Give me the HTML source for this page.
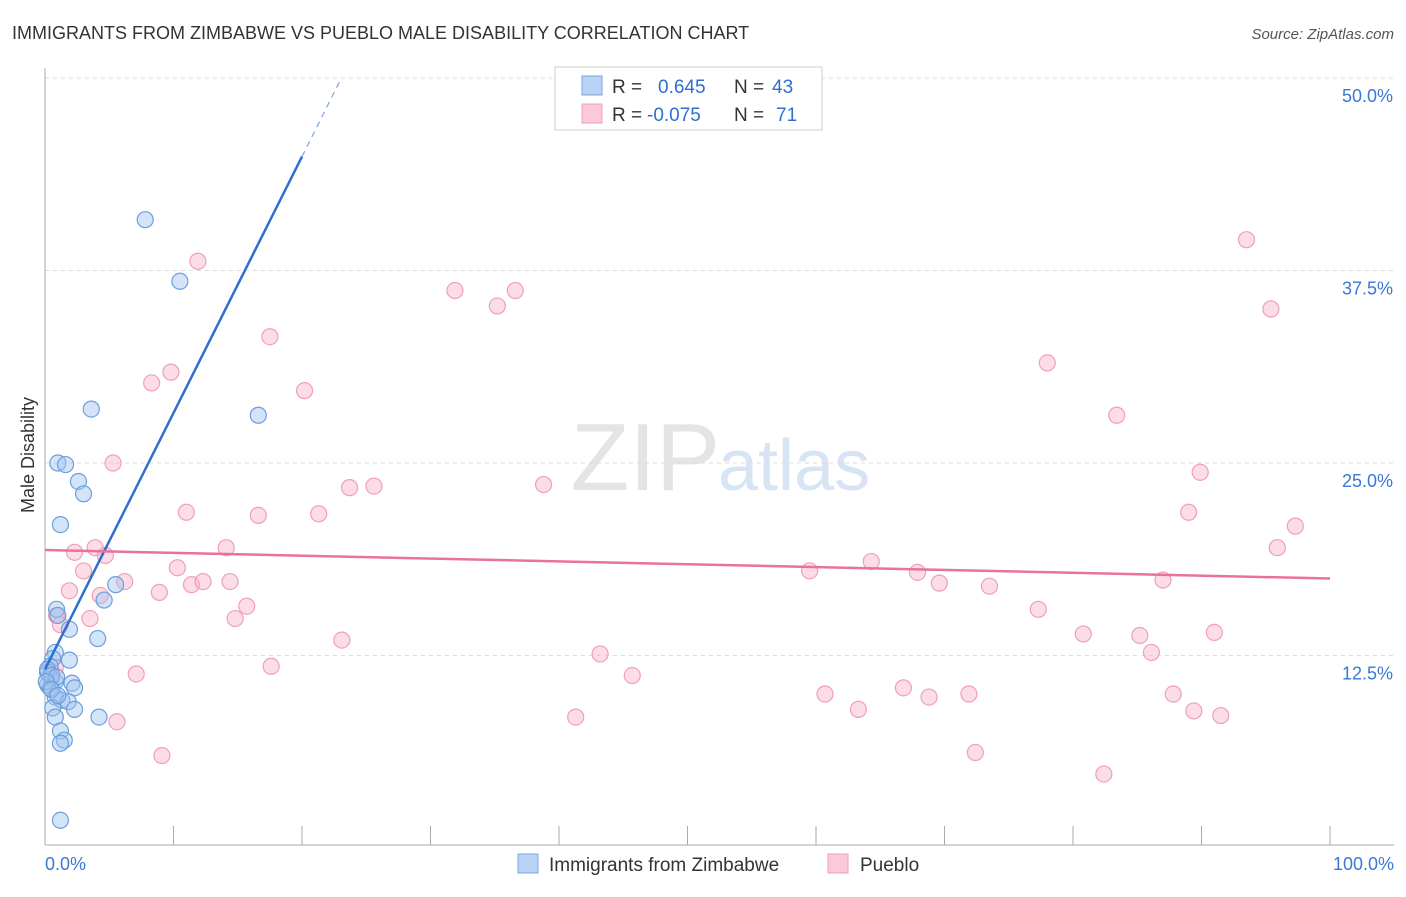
<!DOCTYPE html>
<html><head><meta charset="utf-8"><style>
body{margin:0;background:#fff;font-family:"Liberation Sans",sans-serif;}
svg text{font-family:"Liberation Sans",sans-serif;}
</style></head><body>
<svg id="c" width="1406" height="892">
<text x="12" y="39" font-size="18" fill="#333">IMMIGRANTS FROM ZIMBABWE VS PUEBLO MALE DISABILITY CORRELATION CHART</text>
<text x="1394" y="39" font-size="15" fill="#555" font-style="italic" text-anchor="end">Source: ZipAtlas.com</text>
<text x="720" y="490" font-size="96" fill="#e4e4e4" text-anchor="end" font-family="Liberation Serif">ZIP</text>
<text x="718" y="490" font-size="72" fill="#d6e4f4">atlas</text>
<text transform="translate(34,455) rotate(-90)" font-size="18" fill="#333" text-anchor="middle">Male Disability</text>
<g id="grid"></g><g id="marks"></g>
<g>
<rect x="555" y="67" width="267" height="63" fill="#fff" stroke="#ccc"/>
<rect x="582" y="76" width="20" height="19" fill="#b9d3f5" stroke="#7aa6e0"/>
<rect x="582" y="104" width="20" height="19" fill="#fbc9d8" stroke="#eea0b8"/>
<text x="612" y="93" font-size="19" fill="#333">R = <tspan fill="#2f6fd0" x="658">0.645</tspan><tspan fill="#333" x="734">N =</tspan><tspan fill="#2f6fd0" x="772">43</tspan></text>
<text x="612" y="121" font-size="19" fill="#333">R = <tspan fill="#2f6fd0" x="647">-0.075</tspan><tspan fill="#333" x="734">N =</tspan><tspan fill="#2f6fd0" x="776">71</tspan></text>
</g>
<g>
<rect x="518" y="854" width="20" height="19" fill="#b9d3f5" stroke="#7aa6e0"/>
<text x="549" y="871" font-size="19" fill="#333">Immigrants from Zimbabwe</text>
<rect x="828" y="854" width="20" height="19" fill="#fbc9d8" stroke="#eea0b8"/>
<text x="860" y="871" font-size="19" fill="#333">Pueblo</text>
</g>
</svg>
<script>
const yTicks=[12.5,25,37.5,50];
const yTickLabels=["12.5%","25.0%","37.5%","50.0%"];
const xTickLabels=["0.0%","100.0%"];
const blueX=[7.8,10.5,3.6,16.6,1.0,1.6,2.6,3.0,1.2,5.5,4.6,0.9,1.0,1.9,4.1,0.8,0.6,1.9,0.4,0.2,0.5,0.8,2.1,0.2,0.4,2.3,0.8,1.3,1.8,0.6,2.3,0.8,4.2,1.2,1.5,1.2,1.2,0.2,0.5,0.9,0.1,0.5,1.0];
const blueY=[40.8,36.8,28.5,28.1,25.0,24.9,23.8,23.0,21.0,17.1,16.1,15.5,15.1,14.2,13.6,12.7,12.3,12.2,11.8,11.4,11.0,10.8,10.7,10.6,10.4,10.4,9.8,9.6,9.5,9.1,9.0,8.5,8.5,7.6,7.0,6.8,1.8,11.6,11.2,11.1,10.8,10.3,9.9];
const pinkX=[11.9,17.5,8.3,9.8,20.2,31.9,35.2,36.6,5.3,23.7,25.6,38.8,11.0,16.6,21.3,2.3,3.9,4.7,14.1,3.0,10.3,1.9,6.2,11.4,12.3,14.4,8.9,4.3,15.7,0.9,1.2,3.5,14.8,23.1,17.6,7.1,43.2,45.7,41.3,5.6,9.1,59.5,64.3,67.9,69.6,73.5,77.3,60.7,63.3,66.8,68.8,71.9,72.4,80.8,78.0,83.4,85.2,86.1,87.8,87.0,89.0,89.9,91.0,89.4,91.5,82.4,93.5,95.4,97.3,95.9,0.8,0.5];
const pinkY=[38.1,33.2,30.2,30.9,29.7,36.2,35.2,36.2,25.0,23.4,23.5,23.6,21.8,21.6,21.7,19.2,19.5,19.0,19.5,17.99,18.2,16.7,17.3,17.1,17.3,17.3,16.6,16.4,15.7,15.1,14.5,14.9,14.9,13.5,11.8,11.3,12.6,11.2,8.5,8.2,6.0,18.0,18.6,17.9,17.2,17.0,15.5,10.0,9.0,10.4,9.8,10.0,6.2,13.9,31.5,28.1,13.8,12.7,10.0,17.4,21.8,24.4,14.0,8.9,8.6,4.8,39.5,35.0,20.9,19.5,11.7,11.4];
const blueLine=[11.6,44.9],pinkLine=[19.35,17.5];
const NS="http://www.w3.org/2000/svg";
const X=v=>45+v*12.85, Y=v=>848-v*15.4;
function mk(tag,attrs,parent){const e=document.createElementNS(NS,tag);for(const k in attrs)e.setAttribute(k,attrs[k]);parent.appendChild(e);return e;}
const g=document.getElementById('grid'),m=document.getElementById('marks');
yTicks.forEach((t,i)=>{
 const l=mk('line',{x1:45,x2:1394,y1:Y(t),y2:Y(t),stroke:'#ddd','stroke-dasharray':'4,4'},g);
 
 
 const tx=mk('text',{x:1393,y:Y(t)+24,'font-size':18,fill:'#3a78d4','text-anchor':'end'},g);tx.textContent=yTickLabels[i];
 
 
});
const ax=mk('line',{x1:45,x2:45,y1:68,y2:845,stroke:'#aaa'},g);


const bx=mk('line',{x1:45,x2:1394,y1:845,y2:845,stroke:'#aaa'},g);


for(let i=1;i<=10;i++){const t=mk('line',{x1:X(i*10),x2:X(i*10),y1:826,y2:845,stroke:'#aaa'},g);
 
 }
[[0,'start',45],[1,'end',1394]].forEach(([i,a,x])=>{const t=mk('text',{x:x,y:870,'font-size':18,fill:'#3a78d4','text-anchor':a},g);t.textContent=xTickLabels[i];
 
 });
pinkX.forEach((v,i)=>{const c=mk('circle',{cx:X(v),cy:Y(pinkY[i]),r:8,fill:'rgba(248,180,202,0.45)',stroke:'#eea0b8','stroke-width':1.2},m);
 
 });
blueX.forEach((v,i)=>{const c=mk('circle',{cx:X(v),cy:Y(blueY[i]),r:8,fill:'rgba(160,196,240,0.45)',stroke:'#6c9edc','stroke-width':1.2},m);
 
 });
const slope=(blueLine[1]-blueLine[0])/20;
const bl=mk('line',{x1:X(0),y1:Y(blueLine[0]),x2:X(20),y2:Y(blueLine[1]),stroke:'#2f6fd0','stroke-width':2.5},m);


const bd=mk('line',{x1:X(20),y1:Y(blueLine[1]),x2:X(20+(50-blueLine[1])/slope),y2:Y(50),stroke:'#7aa6e0','stroke-width':1.2,'stroke-dasharray':'6,5'},m);


const pl=mk('line',{x1:X(0),y1:Y(pinkLine[0]),x2:X(100),y2:Y(pinkLine[1]),stroke:'#e8729a','stroke-width':2.5},m);


</script>
</body></html>
